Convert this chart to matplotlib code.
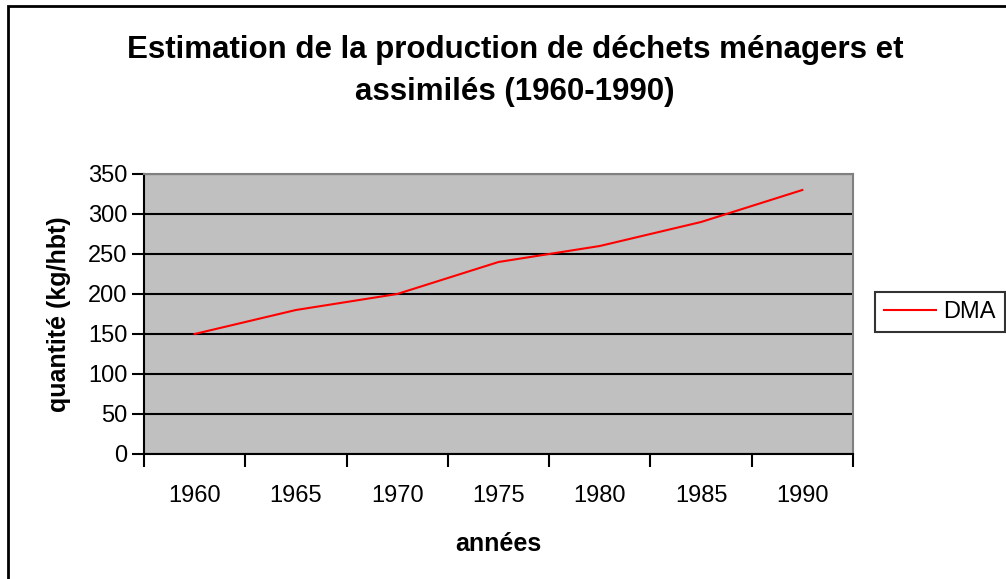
import numpy as np
import matplotlib
matplotlib.use("Agg")
import matplotlib.pyplot as plt
from matplotlib.patches import Rectangle

# data
years = ["1960", "1965", "1970", "1975", "1980", "1985", "1990"]
dma = [150, 180, 200, 240, 260, 290, 330]
y_ticks = [0, 50, 100, 150, 200, 250, 300, 350]

plt.rcParams["font.family"] = ["Liberation Sans", "DejaVu Sans"]

W, H = 1006, 579
fig = plt.figure(figsize=(W / 100, H / 100), dpi=100)

# outer chart frame (right/bottom edges fall outside the image)
fig.patches.append(Rectangle((8 / W, -0.5), 1.2, 1.5 - 6 / H, transform=fig.transFigure,
                             fill=False, edgecolor="black", linewidth=2, zorder=0))

# plot area in pixel coords: left 144, right 853, top 174, bottom 454
ax = fig.add_axes([144 / W, 1 - 454 / H, (853 - 144) / W, (454 - 174) / H])
ax.set_facecolor("#C0C0C0")

x = np.arange(len(years))
ax.plot(x, dma, color="red", linewidth=1.5, label="DMA", zorder=3)

ax.set_xlim(-0.5, len(years) - 0.5)
ax.set_ylim(0, 350)
ax.set_yticks(y_ticks)
ax.set_yticklabels([str(v) for v in y_ticks], fontsize=17)
ax.grid(True, axis="y", color="black", linewidth=1.5)
ax.set_axisbelow(True)

# category axis: ticks between categories, labels at centres
ax.set_xticks(np.arange(-0.5, len(years)))
ax.set_xticklabels([])
ax.set_xticks(x, minor=True)
ax.set_xticklabels(years, minor=True, fontsize=17)
ax.tick_params(axis="x", which="major", length=9, width=1.5, direction="out")
ax.tick_params(axis="x", which="minor", length=0, pad=22)
ax.tick_params(axis="y", length=9, width=1.5, direction="out", pad=3)

for side in ["top", "right"]:
    ax.spines[side].set_color("#808080")
    ax.spines[side].set_linewidth(1.5)
for side in ["left", "bottom"]:
    ax.spines[side].set_color("black")
    ax.spines[side].set_linewidth(1.5)

ax.set_xlabel("années", fontsize=18, fontweight="bold", labelpad=18)
ax.set_ylabel("quantité (kg/hbt)", fontsize=18, fontweight="bold", labelpad=12)

fig.text(515 / W, 1 - 71 / H, "Estimation de la production de déchets ménagers et\nassimilés (1960-1990)",
         ha="center", va="center", fontsize=22.5, fontweight="bold", linespacing=1.55)

leg = ax.legend(loc="center left", bbox_to_anchor=(875 / W, 1 - 312 / H),
                bbox_transform=fig.transFigure, fontsize=17, frameon=True,
                fancybox=False, borderpad=0.4, borderaxespad=0,
                handlelength=2.2, handletextpad=0.3)
leg.get_frame().set_edgecolor("black")
leg.get_frame().set_linewidth(1.5)

fig.savefig("out.png", dpi=100)
